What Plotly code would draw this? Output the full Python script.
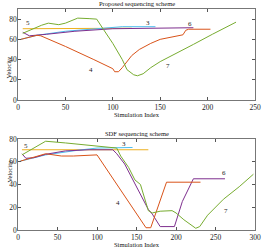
import plotly.graph_objects as go
from plotly.subplots import make_subplots

# ---- Proposed scheme (top) ----
p3_x = [3, 20, 50, 90, 110, 145]
p3_y = [60, 64, 68, 71, 72.5, 72.5]
p4_x = [3, 20, 24, 50, 80, 100, 102, 106, 110, 115, 120, 128, 140, 150, 160, 174, 177, 180, 203]
p4_y = [60, 64, 63.5, 53, 40, 31, 28, 28, 32, 38, 44, 50, 56, 60, 62, 64.5, 69, 70, 70]
p5_x = [5, 120]
p5_y = [70.5, 71]
p6_x = [5, 12, 30, 60, 100, 140, 185]
p6_y = [67, 63.5, 65, 68, 70.5, 71, 71.5]
p7_x = [5, 15, 25, 32, 38, 43, 50, 58, 63, 75, 83, 90, 100, 110, 115, 122, 126, 132, 140, 150, 165, 185, 205, 230]
p7_y = [66, 70, 74, 76, 75, 74.5, 76, 79, 81, 80.5, 80, 70, 56, 40, 30, 25, 24, 26, 32, 38, 45, 55, 65, 77]

# ---- SDF scheme (bottom) ----
s3_x = [3, 35, 75, 100, 145]
s3_y = [60.5, 66, 70, 72, 72.5]
s4_x = [3, 35, 55, 70, 100, 162, 168, 188, 231]
s4_y = [60.5, 67, 65, 65, 66, 2, 2, 42, 42]
s5_x = [5, 165]
s5_y = [70.5, 70.5]
s6_x = [5, 10, 20, 35, 60, 90, 120, 125, 135, 150, 165, 170, 180, 198, 208, 222, 262]
s6_y = [67, 63, 63.5, 66.5, 69.5, 70.5, 70.5, 67, 58, 38, 18, 14, 3, 3, 25, 45, 45]
s7_x = [5, 15, 35, 60, 100, 120, 125, 130, 140, 148, 155, 165, 170, 180, 195, 200, 210, 225, 230, 240, 260, 280, 298]
s7_y = [66, 70, 78, 76.5, 74, 72.5, 72, 65, 55, 44, 40, 17, 15, 16.5, 17, 15, 9, 1.5, 3, 13, 27, 38, 49]

C3 = "rgb(77,190,238)"
C4 = "rgb(217,83,25)"
C5 = "rgb(237,177,32)"
C6 = "rgb(126,47,142)"
C7 = "rgb(119,172,48)"

fig = make_subplots(rows=2, cols=1, vertical_spacing=0.176)

def add(x, y, c, row):
    fig.add_trace(go.Scatter(x=x, y=y, mode="lines", line=dict(color=c, width=1),
                             showlegend=False, hoverinfo="skip"), row=row, col=1)

for x, y, c in [(p5_x, p5_y, C5), (p3_x, p3_y, C3), (p6_x, p6_y, C6), (p4_x, p4_y, C4), (p7_x, p7_y, C7)]:
    add(x, y, c, 1)
for x, y, c in [(s5_x, s5_y, C5), (s3_x, s3_y, C3), (s6_x, s6_y, C6), (s4_x, s4_y, C4), (s7_x, s7_y, C7)]:
    add(x, y, c, 2)

SERIF = "Liberation Serif, Times New Roman, serif"
font = dict(family=SERIF, size=7.5, color="#222")
ax = dict(showline=True, linecolor="#555", linewidth=0.8, mirror="ticks", ticks="inside",
          ticklen=3, tickcolor="#555", showgrid=False, zeroline=False, tickfont=font,
          automargin=False)

fig.update_xaxes(**ax)
fig.update_yaxes(**ax)
fig.update_yaxes(ticklabelstandoff=-1)
fig.update_xaxes(range=[0, 250], tickvals=[0, 50, 100, 150, 200, 250], row=1, col=1)
fig.update_yaxes(range=[0, 90], tickvals=[0, 20, 40, 60, 80], row=1, col=1)
fig.update_xaxes(range=[0, 300], tickvals=[0, 50, 100, 150, 200, 250, 300], row=2, col=1)
fig.update_yaxes(range=[0, 80], tickvals=[0, 20, 40, 60, 80], row=2, col=1)

fig.update_layout(xaxis=dict(domain=[0, 1]), yaxis=dict(domain=[0.588, 1]),
                  xaxis2=dict(domain=[0, 1]), yaxis2=dict(domain=[0, 0.412]))

anns = []
tf = dict(family=SERIF, size=6.5, color="#111")
anns.append(dict(text="Proposed sequencing scheme", x=0.5, y=1, xref="paper", yref="paper",
                 yshift=0, showarrow=False, yanchor="bottom", font=tf))
anns.append(dict(text="SDF sequencing scheme", x=0.5, y=0.412, xref="paper", yref="paper",
                 yshift=0, showarrow=False, yanchor="bottom", font=tf))
anns.append(dict(text="Simulation Index", x=0.5, y=0.588, xref="paper", yref="paper",
                 yshift=-9, showarrow=False, yanchor="top", font=tf))
anns.append(dict(text="Simulation Index", x=0.5, y=0, xref="paper", yref="paper",
                 yshift=-9, showarrow=False, yanchor="top", font=tf))
anns.append(dict(text="Velocity", x=0, y=0.794, xref="paper", yref="paper", xshift=-14.5,
                 showarrow=False, textangle=-90, font=tf))
anns.append(dict(text="Velocity", x=0, y=0.206, xref="paper", yref="paper", xshift=-14.5,
                 showarrow=False, textangle=-90, font=tf))
lab = dict(family=SERIF, size=7, color="#222")
for t, x, y in [("5", 10.5, 76.5), ("3", 137, 76.5), ("6", 181, 75), ("4", 77, 29.7), ("7", 158, 33.6)]:
    anns.append(dict(text=t, x=x, y=y, xref="x", yref="y", showarrow=False, font=lab))
for t, x, y in [("5", 9.7, 74), ("3", 134.6, 75.6), ("6", 260.8, 49.8), ("4", 127, 23.7), ("7", 263, 17)]:
    anns.append(dict(text=t, x=x, y=y, xref="x2", yref="y2", showarrow=False, font=lab))

fig.update_layout(width=262, height=248, margin=dict(l=18, r=7, t=9, b=18),
                  paper_bgcolor="white", plot_bgcolor="white", annotations=anns)

fig.write_html("out.html", config={"displayModeBar": False, "staticPlot": True},
               post_script="document.body.style.margin='0';document.body.style.overflow='hidden';")
